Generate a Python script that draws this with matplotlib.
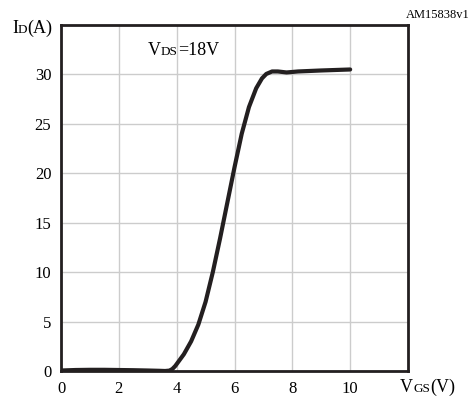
import numpy as np
import matplotlib.pyplot as plt

# transfer characteristic, Id vs Vgs @ Vds = 18 V
vgs = [0.0, 0.5, 1.0, 1.5, 2.0, 2.5, 3.0, 3.4, 3.6, 3.75, 3.85, 3.95, 4.1,
       4.25, 4.5, 4.75, 5.0, 5.25, 5.5, 5.75, 6.0, 6.25, 6.5, 6.75, 6.95,
       7.1, 7.3, 7.5, 7.8, 8.2, 9.0, 10.0]
i_d = [0.05, 0.1, 0.12, 0.12, 0.1, 0.08, 0.05, 0.02, 0.0, 0.04, 0.2, 0.5,
       1.1, 1.7, 3.0, 4.7, 7.0, 10.0, 13.4, 17.0, 20.6, 24.0, 26.7, 28.6,
       29.6, 30.05, 30.3, 30.3, 30.2, 30.3, 30.4, 30.5]

xticks = [0, 2, 4, 6, 8, 10]
yticks = [0, 5, 10, 15, 20, 25, 30]

plt.rcParams['font.family'] = ['Liberation Serif', 'DejaVu Serif']

W, H = 473, 397
fig = plt.figure(figsize=(W / 100, H / 100), dpi=100)
ax = fig.add_axes([61 / W, 26 / H, 347 / W, 346 / H])

ax.plot(vgs, i_d, color='#231f20', lw=3.0, solid_capstyle='round',
        solid_joinstyle='round')

ax.set_xlim(0, 12)
ax.set_ylim(0, 35)
ax.set_xticks(xticks)
ax.set_yticks(yticks)
ax.tick_params(length=0, labelsize=12, pad=7)
ax.grid(True, color='#cccccc', lw=1.0)
ax.set_axisbelow(True)
for s in ax.spines.values():
    s.set_linewidth(2.0)
    s.set_color('#231f20')

renderer = fig.canvas.get_renderer()


def label(x, y, parts):
    # pieces of text with different sizes on one baseline (pixel coords)
    for txt, sz in parts:
        t = fig.text(x / W, 1 - y / H, txt, fontsize=sz, va='baseline', ha='left')
        x += t.get_window_extent(renderer).width


label(12, 33, [('I', 13), ('D', 9.5), ('(A)', 13)])
label(400, 392, [('V', 13), ('GS', 9.5), ('(V)', 13)])
label(148, 55, [('V', 13), ('DS', 9.5), ('=18V', 13)])

fig.text(470 / W, 1 - 18 / H, 'AM15838v1', fontsize=9, ha='right', va='baseline')

fig.savefig('out.png', dpi=100)
